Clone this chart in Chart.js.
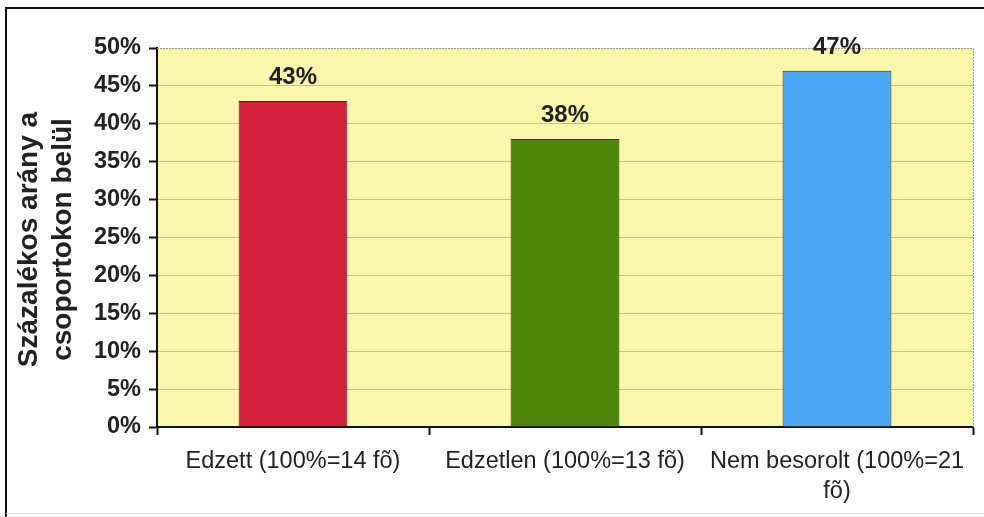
<!DOCTYPE html>
<html>
<head>
<meta charset="utf-8">
<script src="https://cdn.jsdelivr.net/npm/chart.js@4"></script>
<style>
  html, body { margin: 0; padding: 0; background: #fff; }
  #wrap { width: 984px; height: 517px; }
</style>
</head>
<body>
<div id="wrap"><canvas id="chart" width="984" height="517"></canvas></div>
<script>
// data
const categories = [
    'Edzett (100%=14 fõ)',
    'Edzetlen (100%=13 fõ)',
    ['Nem besorolt (100%=21', 'fõ)']
];
const values = [43, 38, 47];
const barColors = ['#D4203A', '#4F870B', '#4CA7F6'];
const yTitle = ['Százalékos arány a', 'csoportokon belül'];

const FONT = '"Liberation Sans", Arial, sans-serif';

// frame, plot background, dashed top/right border, axis title, value labels
const decor = {
    id: 'decor',
    beforeDraw(chart) {
        const c = chart.ctx;
        const a = chart.chartArea;
        c.save();
        c.fillStyle = '#FAF6AB';
        c.fillRect(a.left, a.top, a.right - a.left, a.bottom - a.top);
        c.restore();
    },
    afterDatasetsDraw(chart) {
        const c = chart.ctx;
        const a = chart.chartArea;
        c.save();
        // dashed top and right border of the plot
        c.strokeStyle = '#999';
        c.lineWidth = 1;
        c.setLineDash([2, 1]);
        c.beginPath();
        c.moveTo(a.left, a.top + 0.5);
        c.lineTo(a.right + 0.5, a.top + 0.5);
        c.lineTo(a.right + 0.5, a.bottom);
        c.stroke();
        c.setLineDash([]);

        // value labels
        const meta = chart.getDatasetMeta(0);
        c.fillStyle = '#222';
        c.font = 'bold 24px ' + FONT;
        c.textAlign = 'center';
        c.textBaseline = 'alphabetic';
        meta.data.forEach((bar, i) => {
            c.fillText(values[i] + '%', bar.x, bar.y - 17);
        });

        // y axis title
        c.font = 'bold 28px ' + FONT;
        c.fillStyle = '#222';
        c.textBaseline = 'middle';
        const cy = (a.top + a.bottom) / 2 + 2;
        [29, 63].forEach((x, i) => {
            c.save();
            c.translate(x, cy);
            c.rotate(-Math.PI / 2);
            c.fillText(yTitle[i], 0, 0);
            c.restore();
        });

        // outer frame
        c.strokeStyle = '#111';
        c.lineWidth = 2;
        c.beginPath();
        c.moveTo(6, 517);
        c.lineTo(6, 8);
        c.lineTo(984, 8);
        c.stroke();
        c.strokeStyle = '#ddd';
        c.lineWidth = 1;
        c.beginPath();
        c.moveTo(6, 513.5);
        c.lineTo(984, 513.5);
        c.stroke();
        c.restore();
    }
};

new Chart(document.getElementById('chart'), {
    type: 'bar',
    data: {
        labels: categories,
        datasets: [{
            data: values,
            backgroundColor: barColors,
            borderColor: '#2a2a2a',
            borderWidth: 1,
            barPercentage: 0.4,
            categoryPercentage: 1
        }]
    },
    options: {
        responsive: false,
        animation: false,
        layout: { padding: { left: 0, top: 48, right: 11, bottom: 0 } },
        plugins: {
            legend: { display: false },
            tooltip: { enabled: false }
        },
        scales: {
            x: {
                afterFit: s => { s.height = 90; },
                grid: {
                    offset: true,
                    drawOnChartArea: false,
                    tickColor: '#111',
                    tickLength: 8,
                    tickWidth: 2
                },
                border: { color: '#111', width: 2 },
                ticks: {
                    color: '#222',
                    padding: 12,
                    font: { family: FONT, size: 23.5, lineHeight: 1.27 }
                }
            },
            y: {
                min: 0,
                max: 50,
                afterFit: s => { s.width = 157; },
                grid: {
                    color: ctx => ctx.tick && (ctx.tick.value === 50 || ctx.tick.value === 0) ? 'rgba(0,0,0,0)' : '#C9C27A',
                    lineWidth: 1,
                    tickColor: '#111',
                    tickLength: 8,
                    tickWidth: 2
                },
                border: { color: '#111', width: 2 },
                ticks: {
                    stepSize: 5,
                    color: '#222',
                    padding: 8,
                    font: { family: FONT, size: 23.5, weight: 'bold' },
                    callback: v => v + '%'
                }
            }
        }
    },
    plugins: [decor]
});
</script>
</body>
</html>
